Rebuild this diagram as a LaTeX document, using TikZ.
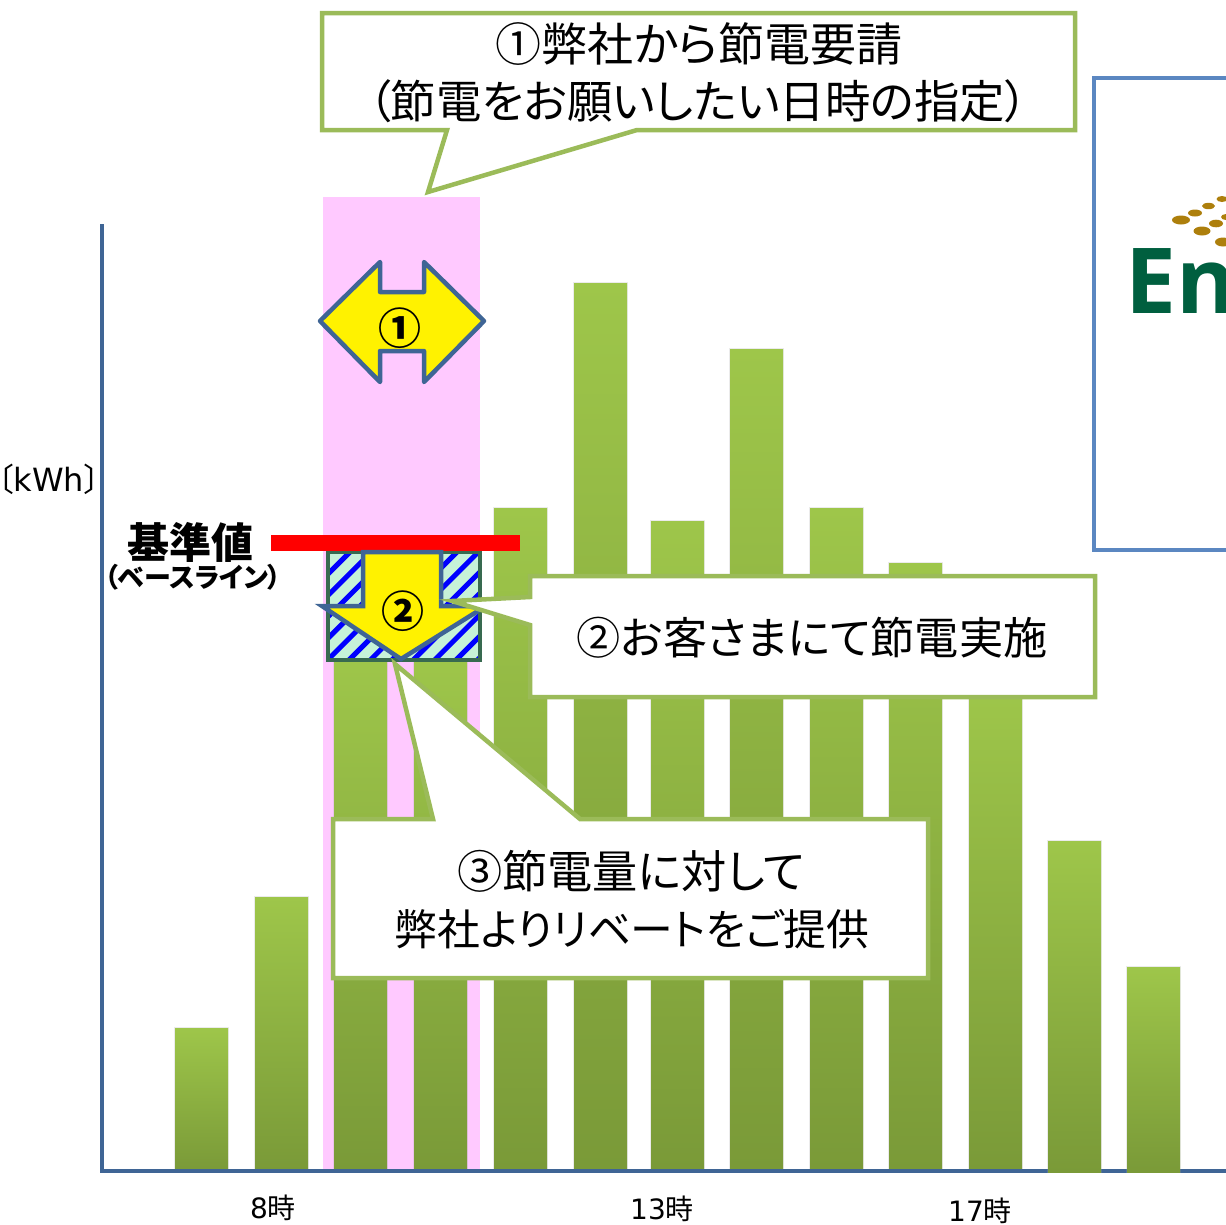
\documentclass[tikz,border=0pt]{standalone}
\usepackage{fontspec}
\setmainfont{Noto Sans CJK JP}[RawFeature=+palt]
\newfontfamily\vfont{DejaVu Sans}
\newfontfamily\logofont{Open Sans}
\definecolor{calloutgreen}{HTML}{9BBB59}
\definecolor{axisblue}{HTML}{3F6595}
\definecolor{boxblue}{HTML}{5B87C1}
\definecolor{pinkband}{HTML}{FFC9FF}
\definecolor{hatchgreen}{HTML}{C6F2D8}
\definecolor{hatchedge}{HTML}{386A50}
\definecolor{logobrown}{HTML}{AD7F0C}
\definecolor{logogreen}{HTML}{005F3F}
\definecolor{bartop}{HTML}{9EC64A}
\definecolor{barbot}{HTML}{7A9A38}
\tikzset{
  callout/.style={draw=calloutgreen,line width=4.5pt,fill=white,line join=miter,miter limit=20},
  barshade/.style={top color=bartop,bottom color=barbot,middle color=bartop!50!barbot},
  yarrow/.style={draw=axisblue,line width=4.5pt,fill=yellow,line join=round},
  big/.style={inner sep=0pt,text=black},
  tick/.style={font=\fontsize{28}{28}\selectfont,inner sep=0pt,text=black},
}
\newcommand{\ubar}[3]{%
  \fill[black!35,opacity=.22] (#1-1.5,#2-1) rectangle (#1+54,#3+1);
  \shade[barshade] (#1,#2) rectangle (#1+53,#3);
}
\newcommand{\bigsize}[1]{\fontsize{#1}{#1}\selectfont}
\begin{document}
\begin{tikzpicture}[x=1pt,y=-1pt]
\useasboundingbox (0,0) rectangle (1226,1224);
% pink band
\fill[pinkband] (323,197) rectangle (480,1170);
% bars
\ubar{175}{1028}{1170}
\ubar{255}{897}{1170}
\ubar{334}{655}{1170}
\ubar{414}{655}{1170}
\ubar{494}{508}{1170}
\ubar{574}{283}{1170}
\ubar{651}{521}{1170}
\ubar{730}{349}{1170}
\ubar{810}{508}{1170}
\ubar{889}{563}{1170}
\ubar{969}{690}{1170}
% axes
\draw[axisblue,line width=4.5pt] (102,224) -- (102,1171) -- (1226,1171);
\ubar{1048}{841}{1172}
\ubar{1127}{967}{1172}
% right box
\draw[boxblue,line width=4.5pt] (1226,78) -- (1094,78) -- (1094,550) -- (1226,550);
% logo
\fill[logobrown] (1181,220) ellipse [x radius=9,y radius=4.5];
\fill[logobrown] (1195,213) ellipse [x radius=7,y radius=3.5];
\fill[logobrown] (1208.5,206) ellipse [x radius=6.5,y radius=3.2];
\fill[logobrown] (1222,199) ellipse [x radius=5.5,y radius=3];
\fill[logobrown] (1202,231) ellipse [x radius=8.5,y radius=4.5];
\fill[logobrown] (1216,223.5) ellipse [x radius=7,y radius=3.8];
\fill[logobrown] (1226,217) ellipse [x radius=5,y radius=3];
\fill[logobrown] (1223,242) ellipse [x radius=8,y radius=4.5];
\node[anchor=base west,inner sep=0pt,text=logogreen,font=\logofont\bfseries\fontsize{91}{91}\selectfont] (logo) at (1125,313) {En};
% hatched box
\begin{scope}
  \clip (328,552) rectangle (480,660);
  \fill[hatchgreen] (328,552) rectangle (480,660);
  \foreach \k in {-2,...,12}{
    \draw[blue,line width=5pt] ({350+21.4*\k+20},532) -- ({350+21.4*\k-130},682);
  }
\end{scope}
\draw[hatchedge,line width=4pt] (328,552) rectangle (480,660);
% red line
\fill[red] (271,535) rectangle (520,551);
% arrows
\draw[yarrow] (320,321) -- (380,262) -- (380,292) -- (424,292) -- (424,262) -- (484,321) -- (424,382) -- (424,351) -- (380,351) -- (380,382) -- cycle;
\node[inner sep=0pt,font=\bfseries\bigsize{43}] (one) at (400,328) {①};
\draw[axisblue,line width=4.5pt,fill=yellow,line join=miter] (363,552) -- (441,552) -- (441,606) -- (486,606) -- (401,659) -- (322,606) -- (363,606) -- cycle;
\node[inner sep=0pt,font=\bfseries\bigsize{43}] (two) at (403,611) {②};
% callouts
\draw[callout] (322,13) -- (1075,13) -- (1075,130) -- (637,130) -- (428,192) -- (447,130) -- (322,130) -- cycle;
\draw[callout] (530,576) -- (1095,576) -- (1095,697) -- (530,697) -- (530,625) -- (452,601) -- (530,597) -- cycle;
\draw[callout] (333,819) -- (433,819) -- (395,664) -- (580,819) -- (928,819) -- (928,978) -- (333,978) -- cycle;
% callout text
\node[big,font=\bigsize{46}] (t1a) at (699,44) {①弊社から節電要請};
\node[big,font=\bigsize{45.4}] (t1b) at (698,101) {（節電をお願いしたい日時の指定）};
\node[big,font=\bigsize{44.2}] (t2) at (812,638) {②お客さまにて節電実施};
\node[big,font=\bigsize{45.2}] (t3a) at (631,871) {③節電量に対して};
\node[big,font=\bigsize{42.8}] (t3b) at (632,929) {弊社よりリベートをご提供};
% labels
\node[inner sep=0pt,font=\bfseries\bigsize{42}] (kijun) at (190,542) {基準値};
\node[inner sep=0pt,font=\bfseries\bigsize{27}] (base) at (193,577) {（ベースライン）};
\node[inner sep=0pt,font=\bigsize{32}] (unit) at (49,479) {〔{\vfont kWh}〕};
\node[tick] (t8) at (273,1208) {{\vfont 8}時};
\node[tick] (t13) at (662,1209) {{\vfont 13}時};
\node[tick] (t17) at (980,1211) {{\vfont 17}時};
\end{tikzpicture}
\end{document}
